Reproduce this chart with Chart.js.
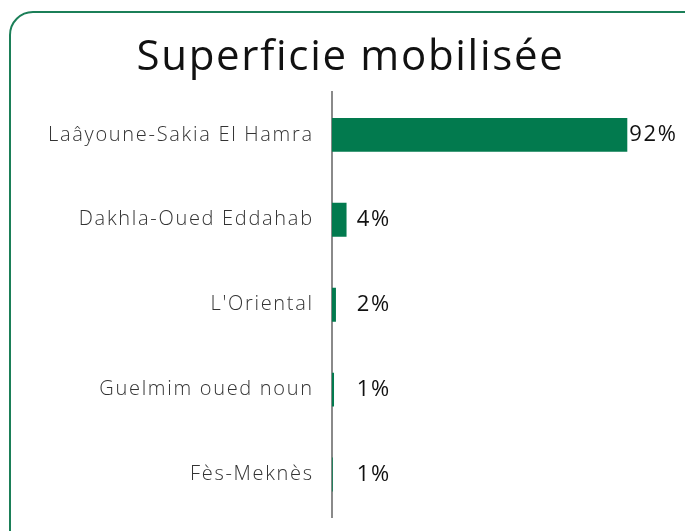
<!DOCTYPE html>
<html><head><meta charset="utf-8">
<script src="https://cdn.jsdelivr.net/npm/chart.js@4"></script>
<style>
html,body{margin:0;padding:0;background:#fff;}
#wrap{position:relative;width:685px;height:531px;overflow:hidden;}
#frame{position:absolute;left:9px;top:11px;width:700px;height:560px;border:2px solid #1b7f58;border-radius:24px;box-sizing:border-box;}
canvas{position:absolute;left:0;top:0;}
</style></head>
<body><div id="wrap"><div id="frame"></div><canvas id="c" width="685" height="531"></canvas></div>
<script>
const title = "Superficie mobilisée";
const categories = ["Laâyoune-Sakia El Hamra","Dakhla-Oued Eddahab","L'Oriental","Guelmim oued noun","Fès-Meknès"];
const values = [92, 4.6, 1.3, 0.7, 0.3];
const valueLabels = ["92%","4%","2%","1%","1%"];

const spacingPlugin = {
  id:'spacing',
  beforeUpdate(chart){ chart.ctx.letterSpacing = '1.7px'; },
  beforeDraw(chart){ chart.ctx.letterSpacing = '1.7px'; }
};

const labelPlugin = {
  id:'valueLabels',
  afterDatasetsDraw(chart){
    const ctx = chart.ctx;
    const meta = chart.getDatasetMeta(0);
    const x0 = chart.scales.x.getPixelForValue(0);
    ctx.save();
    ctx.font = '22px "Open Sans"';
    ctx.fillStyle = '#111';
    ctx.textBaseline = 'middle';
    ctx.textAlign = 'left';
    meta.data.forEach((bar,i)=>{
      const x = Math.max(bar.x + 2, x0 + 25);
      ctx.fillText(valueLabels[i], x, bar.y);
    });
    ctx.restore();
  }
};

new Chart(document.getElementById('c'), {
  type:'bar',
  data:{labels:categories, datasets:[{data:values, backgroundColor:'#027a4e', barPercentage:0.8, categoryPercentage:0.5}]},
  options:{
    indexAxis:'y', responsive:false, animation:false,
    layout:{padding:{top:0,right:32,bottom:14,left:48}},
    plugins:{
      legend:{display:false}, tooltip:{enabled:false},
      title:{display:true, text:title, color:'#111', font:{family:'"Open Sans"', size:42, weight:'normal'}, padding:{top:33,bottom:9}}
    },
    scales:{
      x:{display:false, min:0, max:100},
      y:{grid:{display:false, drawTicks:true, tickLength:18}, border:{display:true, color:'#8a8a8a', width:2},
         ticks:{color:'#333', padding:0, font:{family:'"Open Sans"', size:20, weight:300}}}
    }
  },
  plugins:[spacingPlugin, labelPlugin]
});
</script></body></html>
